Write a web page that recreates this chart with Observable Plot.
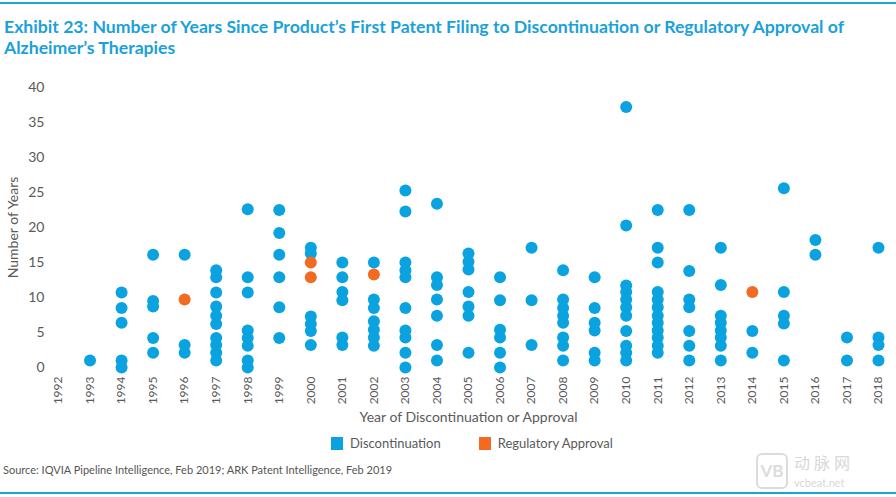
<!DOCTYPE html>
<html>
<head>
<meta charset="utf-8">
<script src="https://cdn.jsdelivr.net/npm/d3@7"></script>
<script src="https://cdn.jsdelivr.net/npm/@observablehq/plot@0.6"></script>
<style>
  html, body { margin: 0; padding: 0; background: #fff; }
  #page { position: relative; width: 896px; height: 497px; overflow: hidden; font-family: Lato, "Open Sans", sans-serif; color: #5a5a5a; }
  #topline { position: absolute; left: 0; top: 2px; width: 896px; height: 2px; background: #1aa3dc; }
  #botline { position: absolute; left: 0; top: 492px; width: 896px; height: 2px; background: #1aa3dc; }
  #title { position: absolute; left: 4px; top: 16px; font-family: Lato, "Open Sans", sans-serif; font-weight: bold; font-size: 17.5px; line-height: 21px; color: #1ba1da; }
  #title div { white-space: nowrap; transform-origin: 0 50%; }
  #chart { position: absolute; left: 0; top: 72px; }
  #legend { position: absolute; left: 331px; top: 435px; display: flex; align-items: center; font-size: 13px; color: #5a5a5a; }
  .sw { width: 12px; height: 13px; display: inline-block; margin-right: 7px; }
  .item { display: flex; align-items: center; margin-right: 38px; }
  #source { position: absolute; left: 3px; top: 463px; font-size: 11px; color: #555; white-space: nowrap; }
  #wm { position: absolute; left: 756px; top: 452px; width: 130px; height: 38px; color: #d8d8d8; white-space: nowrap; }
  #wm .cn { font-family: "Noto Sans CJK SC", sans-serif; font-size: 16px; line-height: 16px; height: 16px; position: absolute; left: 38px; top: 2px; letter-spacing: 4px; }
  #wm .en { font-size: 11px; line-height: 11px; position: absolute; left: 38px; top: 25px; }
  #wm .logo { position: absolute; left: 0; top: 1px; width: 28px; height: 32px; border: 2px solid #dcdcdc; border-radius: 6px; font-weight: bold; font-size: 17px; text-align: center; line-height: 32px; color: #dcdcdc; }
</style>
</head>
<body>
<div id="page">
  <div id="topline"></div>
  <div id="title"><div id="t1">Exhibit 23: Number of Years Since Product’s First Patent Filing to Discontinuation or Regulatory Approval of</div><div id="t2">Alzheimer’s Therapies</div></div>
  <div id="chart"></div>
  <div id="legend"></div>
  <div id="source">Source: IQVIA Pipeline Intelligence, Feb 2019; ARK Patent Intelligence, Feb 2019</div>
  <div id="wm"><div class="logo">VB</div><div class="cn">动脉网</div><div class="en">vcbeat.net</div></div>
  <div id="botline"></div>
</div>
<script>
// Tick labels / categories
const years = d3.range(1992, 2019);
const seriesNames = ["Discontinuation", "Regulatory Approval"];
const seriesColors = ["#0aa3e0", "#f26b21"];
const yTicks = [0, 5, 10, 15, 20, 25, 30, 35, 40];
const xLabel = "Year of Discontinuation or Approval";
const yLabel = "Number of Years";

// Discontinuation values, one list per year (aligned with years)
const discValues = [
  [],                                                        // 1992
  [1.0],                                                     // 1993
  [10.7, 8.5, 6.4, 1.0, 0],                                  // 1994
  [16.1, 9.5, 8.7, 4.2, 2.1],                                // 1995
  [16.1, 3.2, 2.1],                                          // 1996
  [13.9, 12.9, 10.7, 8.7, 7.4, 6.2, 4.2, 3.2, 2.1, 1.0],     // 1997
  [22.6, 12.9, 10.7, 5.3, 4.2, 3.1, 1.0, 0],                 // 1998
  [22.5, 19.2, 16.1, 12.9, 8.6, 4.2],                        // 1999
  [17.1, 16.3, 7.3, 6.2, 5.2, 3.2],                          // 2000
  [15.0, 12.9, 10.8, 9.6, 4.3, 3.2],                         // 2001
  [15.0, 9.7, 8.5, 6.6, 5.4, 4.3, 3.1],                      // 2002
  [25.3, 22.3, 15.0, 13.9, 12.9, 8.5, 5.3, 4.3, 2.1, 0],     // 2003
  [23.4, 12.9, 11.8, 9.7, 7.4, 3.2, 1.0],                    // 2004
  [16.3, 15.1, 14.0, 10.8, 8.7, 7.4, 2.1],                   // 2005
  [12.9, 9.6, 5.4, 4.3, 2.1, 0],                             // 2006
  [17.1, 9.6, 3.2],                                          // 2007
  [13.9, 9.7, 8.5, 7.4, 6.4, 4.3, 3.1, 1.0],                 // 2008
  [12.9, 8.5, 6.4, 5.3, 2.1, 1.0],                           // 2009
  [37.2, 20.3, 11.7, 10.8, 9.7, 8.6, 7.4, 5.2, 3.1, 2.1, 1.0], // 2010
  [22.5, 17.1, 15.0, 10.8, 9.7, 8.6, 7.4, 6.4, 5.3, 4.3, 3.1, 2.1], // 2011
  [22.5, 13.8, 9.7, 8.6, 5.2, 3.1, 1.0],                     // 2012
  [17.1, 11.8, 7.4, 6.4, 5.3, 4.3, 3.1, 1.0],                // 2013
  [5.2, 2.1],                                                // 2014
  [25.6, 10.8, 7.4, 6.3, 1.0],                               // 2015
  [18.2, 16.1],                                              // 2016
  [4.3, 1.0],                                                // 2017
  [17.1, 4.3, 3.2, 1.0]                                      // 2018
];

// Regulatory approval values, one list per year (aligned with years)
const approvalValues = [
  [], [], [], [], [9.7], [], [], [], [15.0, 12.9], [], [13.3], [], [], [], [], [], [], [], [], [], [], [], [10.8], [], [], [], []
];

const data = [];
years.forEach((yr, i) => {
  discValues[i].forEach(v => data.push({year: yr, value: v, type: seriesNames[0]}));
  approvalValues[i].forEach(v => data.push({year: yr, value: v, type: seriesNames[1]}));
});

const chart = Plot.plot({
  width: 896,
  height: 356,
  marginTop: 15,
  marginBottom: 61,
  marginLeft: 58,
  marginRight: 18,
  style: {fontFamily: "Lato, 'Open Sans', sans-serif", fontSize: "14px", color: "#5a5a5a", background: "transparent", overflow: "visible"},
  x: {domain: [1992, 2018]},
  y: {domain: [0, 40]},
  color: {domain: seriesNames, range: seriesColors},
  marks: [
    Plot.axisY({ticks: yTicks, tickSize: 0, tickPadding: 14, fontSize: 14, label: yLabel, labelAnchor: "center", labelOffset: 50, labelArrow: "none"}),
    Plot.axisX({ticks: years, tickFormat: d => String(d), tickRotate: -90, tickSize: 0, tickPadding: 9, fontSize: 12, label: null}),
    Plot.text([xLabel], {frameAnchor: "bottom", dy: 54, fontSize: 14, fill: "#5a5a5a", text: d => d}),
    Plot.dot(data, {x: "year", y: "value", fill: "type", r: 6})
  ]
});
document.getElementById("chart").appendChild(chart);

// Condense title horizontally to match the reference's narrow face
const t1 = document.getElementById("t1");
const t2 = document.getElementById("t2");
const w1 = t1.getBoundingClientRect().width;
const s = 840 / w1;
t1.style.transform = `scaleX(${s})`;
t2.style.transform = `scaleX(${s})`;

const legend = document.getElementById("legend");
seriesNames.forEach((name, i) => {
  const item = document.createElement("div");
  item.className = "item";
  const sw = document.createElement("span");
  sw.className = "sw";
  sw.style.background = seriesColors[i];
  const label = document.createElement("span");
  label.textContent = name;
  item.appendChild(sw);
  item.appendChild(label);
  legend.appendChild(item);
});
</script>
</body>
</html>
